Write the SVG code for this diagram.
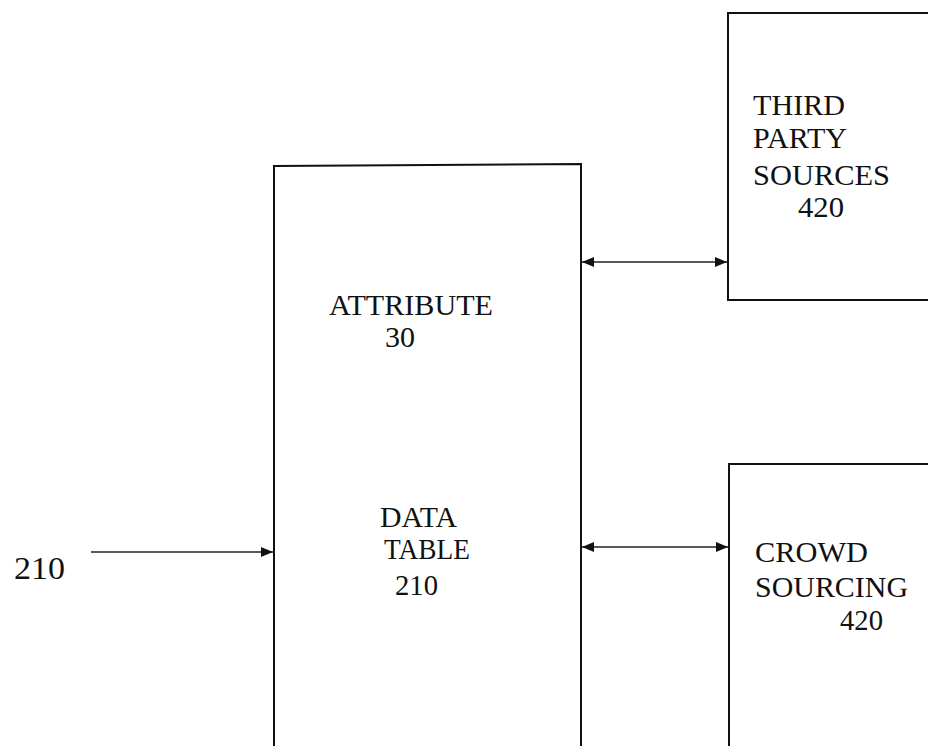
<svg xmlns="http://www.w3.org/2000/svg" width="928" height="746" viewBox="0 0 928 746">
<style>
.box{fill:none;stroke:#111;stroke-width:2}
.con{stroke:#222;stroke-width:1.3;fill:none}
text{font-family:"Liberation Serif","Times New Roman",serif;font-size:28.5px;fill:#111}
.big{font-size:32px}
</style>
<defs>
<marker id="ah" viewBox="0 0 12 10" refX="12" refY="5" markerWidth="12" markerHeight="10" markerUnits="userSpaceOnUse" orient="auto-start-reverse">
<path d="M0,0 L12,5 L0,10 z" fill="#111"/>
</marker>
</defs>
<rect width="928" height="746" fill="#fff"/>
<g id="data-table">
<path class="box" d="M274,760 L274,166 L581,164 L581,760"/>
<text x="329" y="315" textLength="164" lengthAdjust="spacingAndGlyphs">ATTRIBUTE</text>
<text x="385" y="347" textLength="30" lengthAdjust="spacingAndGlyphs">30</text>
<text x="380" y="527" textLength="77" lengthAdjust="spacingAndGlyphs">DATA</text>
<text x="384" y="559" textLength="86" lengthAdjust="spacingAndGlyphs">TABLE</text>
<text x="395" y="595" textLength="43" lengthAdjust="spacingAndGlyphs">210</text>
</g>
<g id="third-party">
<path class="box" d="M940,13 L728,13 L728,300 L940,300"/>
<text x="753" y="115" textLength="92" lengthAdjust="spacingAndGlyphs">THIRD</text>
<text x="753" y="148" textLength="94" lengthAdjust="spacingAndGlyphs">PARTY</text>
<text x="753" y="185" textLength="137" lengthAdjust="spacingAndGlyphs">SOURCES</text>
<text x="798" y="217" textLength="46" lengthAdjust="spacingAndGlyphs">420</text>
</g>
<g id="crowd">
<path class="box" d="M940,464 L729,464 L729,760"/>
<text x="755" y="562" textLength="113" lengthAdjust="spacingAndGlyphs">CROWD</text>
<text x="755" y="597" textLength="153" lengthAdjust="spacingAndGlyphs">SOURCING</text>
<text x="840" y="630" textLength="43" lengthAdjust="spacingAndGlyphs">420</text>
</g>
<g id="input-label">
<text class="big" x="14" y="579" textLength="51" lengthAdjust="spacingAndGlyphs">210</text>
</g>
<g id="connectors">
<line class="con" x1="582" y1="262" x2="727" y2="262" marker-start="url(#ah)" marker-end="url(#ah)"/>
<line class="con" x1="582" y1="547" x2="728" y2="547" marker-start="url(#ah)" marker-end="url(#ah)"/>
<line class="con" x1="91" y1="552" x2="273" y2="552" marker-end="url(#ah)"/>
</g>
</svg>
